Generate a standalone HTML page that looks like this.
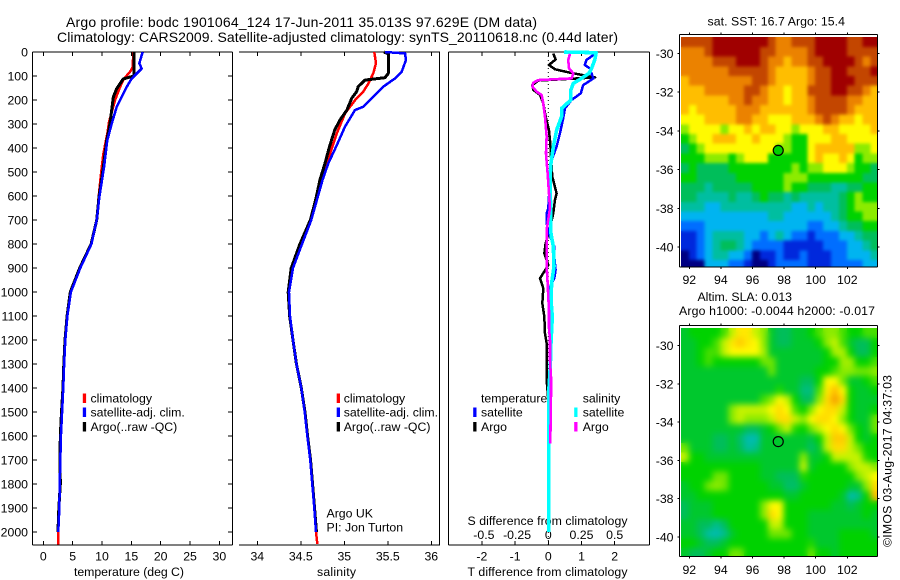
<!DOCTYPE html>
<html lang="en">
<head>
<meta charset="utf-8">
<title>Argo profile</title>
<style>
html,body{margin:0;padding:0;background:#fff;}
svg{display:block;}
text{font-family:"Liberation Sans",sans-serif;font-size:12.3px;fill:#000;}
.title{font-size:14px;}
</style>
</head>
<body>
<svg id="chart" width="900" height="580" viewBox="0 0 900 580" xmlns="http://www.w3.org/2000/svg">
<defs>
<filter id="sst-blur" color-interpolation-filters="sRGB"><feGaussianBlur stdDeviation="1.6"/></filter>
<filter id="sla-blur" color-interpolation-filters="sRGB"><feGaussianBlur stdDeviation="3.2"/></filter>
<clipPath id="sst-map-clip"><rect x="681" y="37" width="196.5" height="230"/></clipPath>
<clipPath id="sla-map-clip"><rect x="681" y="328" width="196.5" height="228.5"/></clipPath>
</defs>
<rect width="900" height="580" fill="#fff"/>
<text class="title" x="66" y="27" textLength="471">Argo profile: bodc 1901064_124 17-Jun-2011 35.013S 97.629E (DM data)</text>
<text class="title" x="57" y="42" textLength="561">Climatology: CARS2009. Satellite-adjusted climatology: synTS_20110618.nc (0.44d later)</text>
<text x="74" y="576" textLength="110">temperature (deg C)</text>
<text x="317" y="576" textLength="39">salinity</text>
<text x="467.5" y="525" textLength="160">S difference from climatology</text>
<text x="467.5" y="576" textLength="160">T difference from climatology</text>
<text x="326.5" y="517.5">Argo UK</text>
<text x="326.5" y="531.5">PI: Jon Turton</text>
<text x="707.5" y="25.5" textLength="137.5">sat. SST: 16.7 Argo: 15.4</text>
<text x="697.5" y="301" textLength="94.5">Altim. SLA: 0.013</text>
<text x="679" y="315" textLength="196">Argo h1000: -0.0044 h2000: -0.017</text>
<text transform="translate(891.5 547) rotate(-90)" textLength="172">©IMOS 03-Aug-2017 04:37:03</text>
</svg>
<script>
/* ---- depth and tick labels ---- */
const depthTicks = [0,100,200,300,400,500,600,700,800,900,1000,1100,1200,1300,1400,1500,1600,1700,1800,1900,2000];
const tempTicks = [0,5,10,15,20,25,30];
const salTicks = [34,34.5,35,35.5,36];
const salTickLabels = ['34','34.5','35','35.5','36'];
const diffTTicks = [-2,-1,0,1,2];
const diffSTicks = [-0.5,-0.25,0,0.25,0.5];
const lonTicks = [92,94,96,98,100,102];
const latTicks = [-30,-32,-34,-36,-38,-40];

/* ---- temperature profiles ---- */
const tempClimDepth = [0,63,83,111,146,201,292,340,424,521,604,700,800,900,1000,1100,1200,1300,1400,1500,1600,1700,1800,1900,2000,2053];
const tempClim = [15.34,15.22,14.77,13.75,13.07,12.22,11.19,10.91,10.23,9.77,9.43,9.1,8.2,6.3,4.7,4.1,3.75,3.55,3.4,3.2,3.0,2.9,2.8,2.73,2.55,2.55];
const tempArgoDepth = [0,100,112,153,188,299,368,479,604,700,800,900,1000,1100,1200,1300,1400,1500,1600,1700,1800,1900,2000];
const tempArgo = [15.45,15.45,13.63,12.5,11.93,11.36,10.8,10.23,9.49,9.1,8.15,6.2,4.6,4.05,3.7,3.5,3.35,3.1,2.9,2.85,2.9,2.65,2.5];
const tempSatDepth = [0,47,69,111,146,188,229,299,368,479,604,700,800,900,1000,1100,1200,1300,1400,1500,1600,1700,1800,1900,2000];
const tempSat = [16.93,16.36,16.76,15.05,14.2,13.35,12.5,11.65,10.9,10.35,9.55,9.1,8.2,6.3,4.7,4.1,3.75,3.55,3.4,3.2,3.0,2.9,2.8,2.73,2.55];

/* ---- salinity profiles ---- */
const salClimDepth = [0,47,89,132,165,201,256,340,424,493,576,610,700,800,900,1000,1100,1200,1300,1400,1500,1600,1700,1800,1900,2000,2050];
const salClim = [35.345,35.364,35.333,35.276,35.218,35.123,35.008,34.913,34.836,34.778,34.70,34.675,34.617,34.514,34.41,34.364,34.376,34.41,34.45,34.506,34.545,34.575,34.609,34.632,34.655,34.675,34.69];
const salArgoDepth = [0,8,89,107,117,144,165,193,242,283,325,394,464,533,610,700,800,900,1000,1100,1200,1300,1400,1500,1600,1700,1800,1900,2000];
const salArgo = [35.456,35.506,35.506,35.468,35.238,35.16,35.143,35.085,35.03,34.95,34.89,34.83,34.778,34.72,34.675,34.61,34.49,34.39,34.355,34.372,34.41,34.45,34.506,34.548,34.578,34.612,34.635,34.658,34.68];
const salSatDepth = [0,6,33,82,110,144,193,228,242,311,389,464,533,610,700,800,900,1000,1100,1200,1300,1400,1500,1600,1700,1800,1900,2000];
const salSat = [35.47,35.698,35.709,35.66,35.583,35.45,35.315,35.218,35.123,35.008,34.913,34.816,34.75,34.69,34.62,34.514,34.41,34.364,34.376,34.41,34.45,34.506,34.545,34.575,34.609,34.632,34.655,34.675];

/* ---- difference profiles ---- */
const dtArgoDepth = [6,31,54,72,86,106,119,138,158,179,214,269,325,381,436,519,589,617,672,714,756,797,839,888,943,985,1047,1103,1172,1214,1367,1450,2000];
const dtArgo = [0.15,0.22,0.02,0.2,0.65,1.41,-0.3,-0.48,-0.45,-0.25,-0.15,-0.08,0.02,0.06,0.08,0.12,0.25,0.2,0.15,0.08,0,-0.08,-0.12,0,-0.25,-0.15,-0.18,-0.12,-0.1,-0.05,-0.05,0,0];
const dtSatDepth = [3,33,54,68,89,110,138,172,200,235,276,339,394,450,533,651,672,714,756,811,853,908,943,978,1047,1103,1200,1367,2000];
const dtSat = [1.46,1.15,1.1,1.25,1.3,1.36,1.05,0.98,0.7,0.5,0.45,0.35,0.25,0.1,0.05,0,-0.05,-0.05,0.02,0.18,0.18,0.22,0.18,0.05,0.03,0.08,0.08,0.05,0];
const dsSatDepth = [0,3,33,68,89,110,131,158,200,235,269,325,394,464,533,651,756,811,894,964,1033,1103,1214,1311,1400,1450,2000];
const dsSat = [0.12,0.36,0.35,0.326,0.306,0.25,0.188,0.17,0.17,0.1,0.1,0.063,0.038,0.02,0.0125,0.0176,0.02,0.038,0.043,0.025,0.02,0.03,0.02,0.015,0.005,0.002,0.002];
const dsArgoDepth = [8,33,68,89,110,117,128,144,165,179,214,269,353,422,506,547,651,742,894,964,1075,1144,1200,1283,1353,1436,1631];
const dsArgo = [0.163,0.15,0.156,0.188,0.176,-0.075,-0.113,-0.12,-0.088,-0.05,-0.038,-0.025,-0.0125,-0.0176,-0.005,0,0.0125,-0.0125,-0.0125,-0.005,0.005,0.005,0.0125,0.0125,0.02,0.02,0.015];

/* ---- satellite SST map (colour level per half-degree cell) ---- */
const sstCells = [
[11,11,11,11,12,12,12,12,12,12,12,11,10,10,11,11,11,12,12,12,12,11,11,12,12],
[10,10,10,11,12,12,12,12,12,12,11,11,10,10,10,10,11,12,12,12,12,11,11,11,11],
[10,10,10,10,11,11,11,12,12,12,11,10,10,9,10,10,11,11,12,12,12,12,11,10,11],
[10,10,10,10,10,10,11,11,11,11,11,10,9,9,9,9,10,11,11,12,12,11,11,11,12],
[9,10,10,10,10,10,10,10,10,11,11,10,9,9,9,9,10,11,11,12,12,12,11,11,11],
[9,9,9,10,10,10,10,10,11,11,10,9,9,8,9,9,11,11,11,12,12,11,11,10,9],
[9,9,9,9,9,9,10,10,11,10,10,9,9,8,9,9,10,11,11,11,11,10,10,9,9],
[9,8,9,9,9,9,9,10,10,10,9,9,9,9,9,9,10,11,11,11,11,10,9,9,9],
[8,8,8,9,9,9,9,10,10,9,9,8,8,8,9,9,9,10,11,10,9,9,8,9,9],
[7,8,8,8,8,7,8,8,9,8,9,9,8,8,7,8,8,8,9,9,8,8,8,8,9],
[6,7,8,8,9,9,9,8,8,9,8,8,8,7,6,6,8,8,8,9,9,8,8,8,8],
[5,6,7,8,8,8,8,8,8,8,8,8,7,7,6,6,8,9,9,9,9,9,7,7,8],
[6,6,6,7,7,7,6,7,8,8,8,6,6,6,6,6,8,9,8,8,9,8,6,7,7],
[5,6,5,5,5,5,6,6,6,6,6,6,6,6,7,6,7,7,8,8,8,7,6,6,5],
[6,6,5,5,5,5,5,6,6,6,6,6,6,7,7,7,6,6,6,6,6,6,6,5,5],
[5,5,5,4,5,5,5,5,5,6,6,6,6,7,6,6,5,5,5,4,4,5,5,6,6],
[5,5,4,4,4,4,5,4,4,5,6,5,5,4,5,4,4,4,4,4,5,6,7,6,6],
[4,4,4,3,3,4,4,4,4,4,4,4,4,4,3,3,4,3,4,4,5,6,7,7,7],
[3,3,3,3,3,3,3,3,3,3,3,4,4,3,3,3,3,3,3,4,5,6,6,7,7],
[2,2,2,3,3,3,3,3,3,3,3,3,3,3,3,3,2,2,3,3,4,5,5,6,6],
[1,1,2,3,4,4,4,4,3,3,2,3,4,3,2,2,1,2,2,2,3,3,4,5,5],
[1,1,2,3,4,5,5,4,3,2,2,2,2,1,1,1,1,1,2,2,2,3,3,4,5],
[0,1,2,3,4,4,3,3,2,0,1,1,2,1,1,2,1,1,1,2,2,3,3,3,4],
[0,0,0,3,3,3,2,2,1,0,0,1,2,2,2,2,1,1,1,2,2,2,2,3,3]
];

/* ---- altimeter SLA map (colour level per half-degree cell) ---- */
const slaCells = [
[5.5,6,6,6,6,6.5,7.5,8.3,8.3,7.5,7,5.5,5,5,5.5,5.5,6,6.5,7,7,6.5,6,6,6.5,6.5],
[5.5,5.5,6,6,6.5,7.5,8.3,8.8,8.3,8,7,5.5,5,5,5.5,5.5,5.5,6,7,7.5,6.5,5.5,5,5,6],
[5.5,5.5,6,6.5,6.5,7.5,8,8,8,8,7.2,5.5,5.5,5.5,5.5,5.5,5.5,5.5,6,7.3,7.3,6,5,5,6],
[5.5,5.5,6,6.5,6,6,6,6,6,6,6.8,6.8,5.5,5.5,5.5,5.5,5.5,5.5,6,6,7.2,7.2,6,6,6.5],
[5.5,5.5,5.5,5.5,5.5,5.5,5.5,5.5,5.5,5.5,5.5,6.8,5.5,5.5,5.5,5.5,5.5,6,6,6.5,7,7,6.8,6.8,7],
[5.5,5.5,5.5,5.5,5.5,5.5,5.5,5.5,5.5,5.5,5.5,5.5,5.5,5.5,5.5,5,5,6,8,8,6.8,5.5,5.5,6,6.5],
[5.5,5.5,5.5,5.5,5.5,5.5,5.5,5.5,5.5,5.5,5.5,5.5,6.2,5.5,5.5,4.5,4.5,6.5,8.2,9,8,6,5.5,5.5,6],
[5.5,5.5,5.5,5.5,5.5,5.5,5.5,5.5,5.5,5.5,6.5,7,8,7.5,6,5,5,7,8.5,9.5,8.5,6,5.5,5.5,5.5],
[5.5,5.5,5.5,5.5,5.5,5.5,7,7.5,7.5,7.5,7.5,8,8.5,8,6.5,6,7,8,8.5,8.5,7.5,6,5.5,5.5,6],
[5.5,5.5,5.5,5.5,5.5,5.5,7,7.5,7,7,7,7.5,8.5,8.5,7.5,7,8,8.5,8.5,8,7,6,5.5,5.5,6.8],
[5.5,5.5,5.5,5.5,5.5,5.5,5.5,5.5,5,5,5.5,6,6.8,7.5,6.2,6,6.8,7.5,8,8.5,8,6.8,6,5.5,6.8],
[5.5,5.5,5.5,5.5,5,5,5.5,4.8,3.8,3.8,5.5,5.5,5.5,5.5,5.5,5.5,5.2,6,7.5,8.8,8.8,7.5,6,5.5,6],
[6.8,5.5,5.5,5.5,5,5,5.5,5,4,4.3,5.5,5.5,5.5,5.5,5.5,5.5,4.8,5.5,7.5,8.5,8.5,7.5,6.8,6,6],
[7.5,6,6,5.5,5.5,5.5,5.5,5.5,5.5,5.5,5.5,5.5,5.5,5.5,5.5,7,5.5,5.5,6,7.5,7.5,7.5,7.5,6.2,6],
[6,6,6,6,6,6,6,6,6,6,5.5,5.5,5.5,5.5,5.5,7.5,5.5,6,6,6,6,7,7.5,7.5,7],
[6,6,6,6,6.8,6.8,6,6,6,6,5.5,5.5,5,5,5,6.2,6,6,6,6,6,6,7,7.5,8],
[5.5,6,6,6.8,7,6.8,6,6,6,6,6,5.5,5.5,4.8,4.8,5.5,6,6,6,6,6,5.5,5.5,7,8.5],
[5.5,5.5,6,6,6,6,6,6,6,6,6,6,6,5.5,5.5,6,6,6,6,6,5.5,3.8,4.3,6,9],
[5,5.5,5.5,5.5,6,6,6,6,6,6,7,8,8,6,6,6,6,6,6,5.5,5.5,5,5.5,6,6],
[5,5.5,5.5,5.5,6,6,6,6,6,6,7,8.5,8,6,6,6,5.5,5.5,5.5,5.5,5.5,5.5,5.5,6,5.5],
[5.5,5.5,5,5,4.3,5,6,6,6,6,6,7.5,7.5,6,6,6,5.5,5.5,5.5,5.5,5.5,5.5,5.5,5.5,5.5],
[5.5,5.5,5,4,3.8,4.3,5.5,6,6,6,6,6.8,6.8,6.8,6,6,5.5,5.5,5.5,5.5,6,6,6,6,5.5],
[6,6,5.5,5,5,5.5,6,6,6,6,6,6,6,6,6,6,6.2,5.5,5.5,5.5,6,6,6,6,6],
[5.5,5,5,5.5,6,6,6.8,6.8,6,6,6,6,6,6,6,6,6.8,6,6,5.5,6,6,6,6,6]
];
const argoLon = 97.629;
const argoLat = -35.013;

/* ---- drawing ---- */
const svg = document.getElementById('chart');
const NS = 'http://www.w3.org/2000/svg';
let target = svg;

function add(tag, attrs, name, text) {
  const el = document.createElementNS(NS, tag);
  for (const k in attrs) el.setAttribute(k, attrs[k]);
  
  
  if (text !== undefined) el.textContent = text;
  target.appendChild(el);
  return el;
}
function hline(x1, x2, y, name) {
  add('line', {x1: x1, x2: x2, y1: y, y2: y, stroke: '#000', 'stroke-width': 1, 'shape-rendering': 'crispEdges'}, name);
}
function vline(x, y1, y2, name) {
  add('line', {x1: x, x2: x, y1: y1, y2: y2, stroke: '#000', 'stroke-width': 1, 'shape-rendering': 'crispEdges'}, name);
}

/* axis functions */
const yDepth = d => 52 + 0.24 * d;
const xTemp = t => 43.3 + 5.87 * t;
const xSal = s => 257.3 + 87 * (s - 34);
const xDiffT = t => 548.3 + 33.2 * t;
const xDiffS = s => 548.3 + 132.8 * s;

function series(depths, values, xf, color, width, name) {
  const pts = depths.map((d, i) => xf(values[i]).toFixed(2) + ',' + yDepth(d).toFixed(2)).join(' ');
  add('polyline', {points: pts, fill: 'none', stroke: color, 'stroke-width': width, 'stroke-linejoin': 'round', 'shape-rendering': 'crispEdges'}, name);
}

const TOP = 52, BOT = 545;

/* panel 1: temperature */
hline(32.5, 232.5, TOP, 'temperature-panel-top-axis');
hline(32.5, 232.5, BOT, 'temperature-panel-bottom-axis');
vline(32.5, TOP, BOT, 'temperature-panel-left-axis');
vline(232.5, TOP, BOT, 'temperature-panel-right-axis');
depthTicks.forEach(d => {
  hline(32.5, 37, yDepth(d), 'depth-tick-left');
  hline(228, 232.5, yDepth(d), 'depth-tick-right');
  add('text', {x: 28, y: yDepth(d) + 4.5, 'text-anchor': 'end'}, 'depth-tick-label', String(d));
});
tempTicks.forEach(t => {
  vline(xTemp(t), TOP, TOP + 4, 'temperature-tick-top');
  vline(xTemp(t), BOT - 4, BOT, 'temperature-tick-bottom');
  add('text', {x: xTemp(t), y: 560.5, 'text-anchor': 'middle'}, 'temperature-tick-label', String(t));
});
series(tempClimDepth, tempClim, xTemp, '#ff0000', 2.5, 'temperature-climatology-line');
series(tempArgoDepth, tempArgo, xTemp, '#000000', 3, 'temperature-argo-line');
series(tempSatDepth, tempSat, xTemp, '#0000ff', 2.5, 'temperature-satellite-line');

/* panel 2: salinity */
hline(239, 440, TOP, 'salinity-panel-top-axis');
hline(239, 440, BOT, 'salinity-panel-bottom-axis');
vline(439.5, TOP, BOT, 'salinity-panel-right-axis');
salTicks.forEach((s, i) => {
  vline(xSal(s), TOP, TOP + 4, 'salinity-tick-top');
  vline(xSal(s), BOT - 4, BOT, 'salinity-tick-bottom');
  add('text', {x: xSal(s), y: 560.5, 'text-anchor': 'middle'}, 'salinity-tick-label', salTickLabels[i]);
});
series(salClimDepth, salClim, xSal, '#ff0000', 2.5, 'salinity-climatology-line');
series(salArgoDepth, salArgo, xSal, '#000000', 3, 'salinity-argo-line');
series(salSatDepth, salSat, xSal, '#0000ff', 2.5, 'salinity-satellite-line');

/* panel 3: differences */
hline(448.5, 649.5, TOP, 'difference-panel-top-axis');
hline(448.5, 649.5, BOT, 'difference-panel-bottom-axis');
vline(448.5, TOP, BOT, 'difference-panel-left-axis');
vline(649.5, TOP, BOT, 'difference-panel-right-axis');
add('line', {x1: xDiffT(0), x2: xDiffT(0), y1: TOP, y2: BOT, stroke: '#000', 'stroke-width': 1, 'stroke-dasharray': '1 3'}, 'zero-difference-line');
diffTTicks.forEach(t => {
  vline(xDiffT(t), TOP, TOP + 4, 'temperature-difference-tick-top');
  vline(xDiffT(t), BOT - 4, BOT, 'temperature-difference-tick-bottom');
  add('text', {x: xDiffT(t), y: 560.5, 'text-anchor': 'middle'}, 'temperature-difference-tick-label', String(t));
});
diffSTicks.forEach(s => {
  add('text', {x: xDiffS(s) + (s < 0 ? 2 : 0), y: 539, 'text-anchor': 'middle'}, 'salinity-difference-tick-label', String(s));
});
series(dtArgoDepth, dtArgo, xDiffT, '#000000', 2.5, 'temperature-difference-argo-line');
series(dtSatDepth, dtSat, xDiffT, '#0000ff', 2.5, 'temperature-difference-satellite-line');
series(dsSatDepth, dsSat, xDiffS, '#00ffff', 3.6, 'salinity-difference-satellite-line');
series(dsArgoDepth, dsArgo, xDiffS, '#ff00ff', 2.6, 'salinity-difference-argo-line');

/* legends */
function legendEntry(swatchX, textX, baseline, color, label) {
  add('rect', {x: swatchX, y: baseline - 9, width: 3.3, height: 9.5, fill: color}, 'legend-swatch');
  add('text', {x: textX, y: baseline}, 'legend-entry', label);
}
legendEntry(82.8, 90.5, 402.5, '#ff0000', 'climatology');
legendEntry(82.8, 90.5, 416.5, '#0000ff', 'satellite-adj. clim.');
legendEntry(82.8, 90.5, 431, '#000000', 'Argo(..raw -QC)');
legendEntry(336.7, 343.7, 402.5, '#ff0000', 'climatology');
legendEntry(336.7, 343.7, 416.5, '#0000ff', 'satellite-adj. clim.');
legendEntry(336.7, 343.7, 431, '#000000', 'Argo(..raw -QC)');
add('text', {x: 481, y: 402.5}, 'legend-temperature-heading', 'temperature');
legendEntry(473.2, 481, 416.5, '#0000ff', 'satellite');
legendEntry(473.2, 481, 431, '#000000', 'Argo');
add('text', {x: 582.7, y: 402.5}, 'legend-salinity-heading', 'salinity');
legendEntry(574.2, 582.7, 416.5, '#00ffff', 'satellite');
legendEntry(574.2, 582.7, 431, '#ff00ff', 'Argo');

/* colour map */
const levelColours = [[0,0,130],[0,40,220],[0,110,255],[0,180,240],[0,190,160],[0,190,90],[0,210,0],[140,235,0],[255,250,0],[255,190,0],[235,130,0],[195,70,0],[160,0,0]];
function colourOf(v) {
  const i = Math.max(0, Math.min(levelColours.length - 2, Math.floor(v)));
  const f = Math.max(0, Math.min(1, v - i));
  const a = levelColours[i], b = levelColours[i + 1];
  return 'rgb(' + a.map((c, k) => Math.round(c + (b[k] - c) * f)).join(',') + ')';
}

/* maps */
const LON_START = 91.47, CELL_DEG = 0.5;
const xLon = lon => 689.3 + 15.8 * (lon - 92);
function drawMap(cells, prefix, blurId, frameTop, frameBottom, y30, latScale, xLabelY) {
  const yLat = lat => y30 + (-30 - lat) * latScale;
  const latStart = -30 - (frameTop + 2.7 - y30) / latScale;
  /* all cells live in one clipped group; a blurred copy softens the blocks */
  const clipGroup = add('g', {'clip-path': 'url(#' + prefix + '-clip)'}, prefix + '-image');
  target = clipGroup;
  const cellGroup = add('g', {id: prefix + '-cells'}, prefix + '-cells');
  target = cellGroup;
  cells.forEach((row, r) => {
    row.forEach((v, c) => {
      const x0 = Math.max(xLon(LON_START + c * CELL_DEG), 681);
      const x1 = Math.min(xLon(LON_START + (c + 1) * CELL_DEG), 877.5);
      const y0 = yLat(latStart - r * CELL_DEG);
      const y1 = Math.min(yLat(latStart - (r + 1) * CELL_DEG), frameBottom);
      add('rect', {x: x0.toFixed(2), y: y0.toFixed(2), width: (x1 - x0 + 0.4).toFixed(2), height: (y1 - y0 + 0.4).toFixed(2), fill: colourOf(v), 'shape-rendering': 'crispEdges'}, prefix + '-heatmap-cell');
    });
  });
  target = clipGroup;
  add('use', {href: '#' + prefix + '-cells', filter: 'url(#' + blurId + ')'}, prefix + '-smoothed-layer');
  target = svg;
  hline(679.5, 877.5, frameTop, prefix + '-frame-top');
  hline(679.5, 877.5, frameBottom, prefix + '-frame-bottom');
  vline(679.5, frameTop, frameBottom, prefix + '-frame-left');
  vline(877.5, frameTop, frameBottom, prefix + '-frame-right');
  lonTicks.forEach(lon => {
    vline(xLon(lon), frameTop - 2, frameTop, prefix + '-lon-tick');
    vline(xLon(lon), frameBottom, frameBottom + 2, prefix + '-lon-tick-bottom');
    add('text', {x: xLon(lon), y: xLabelY, 'text-anchor': 'middle'}, prefix + '-lon-tick-label', String(lon));
  });
  latTicks.forEach(lat => {
    hline(677.5, 679.5, yLat(lat), prefix + '-lat-tick');
    hline(877.5, 879.5, yLat(lat), prefix + '-lat-tick-right');
    add('text', {x: 673.5, y: yLat(lat) + 4.5, 'text-anchor': 'end'}, prefix + '-lat-tick-label', String(lat));
  });
  return yLat;
}
const ySst = drawMap(sstCells, 'sst-map', 'sst-blur', 34.5, 267, 53.3, 19.37, 284);
add('circle', {cx: xLon(argoLon), cy: ySst(argoLat), r: 5, fill: '#00d000', stroke: '#000', 'stroke-width': 1.2}, 'sst-map-argo-marker');
const ySla = drawMap(slaCells, 'sla-map', 'sla-blur', 325.5, 556.5, 345.7, 19.13, 574);
add('circle', {cx: xLon(argoLon), cy: ySla(argoLat), r: 5, fill: 'none', stroke: '#000', 'stroke-width': 1.2}, 'sla-map-argo-marker');
</script>
</body>
</html>
